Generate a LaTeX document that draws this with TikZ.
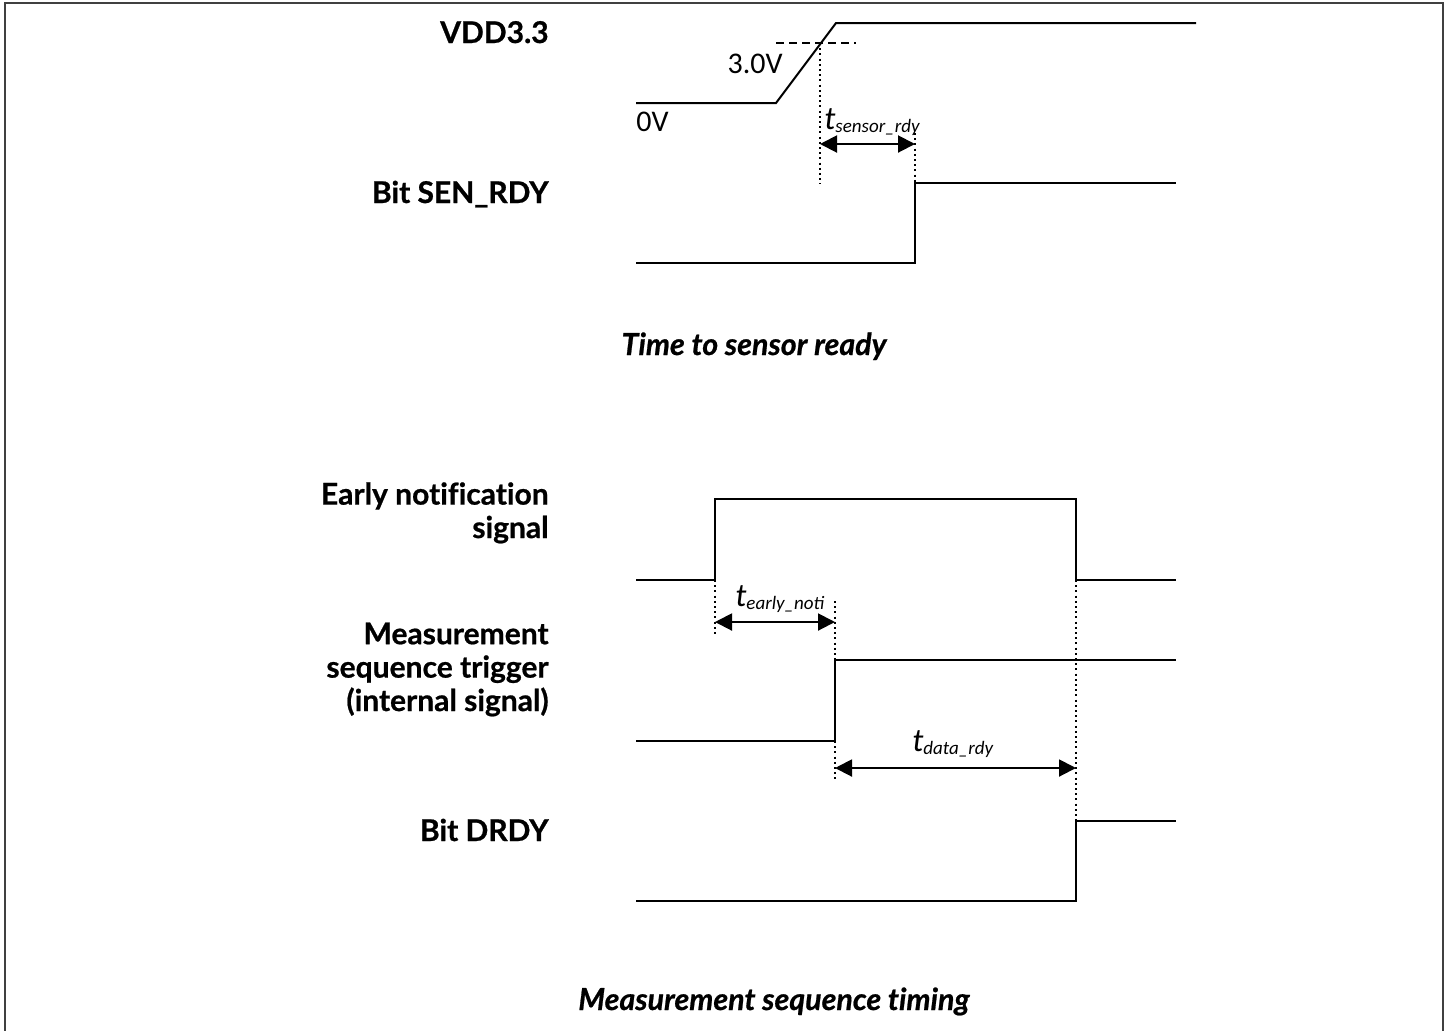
\documentclass[tikz,border=0pt]{standalone}
\usepackage{fontspec}
\setmainfont{Lato}[Ligatures=NoCommon, BoldFeatures={FakeBold=0.7}, BoldItalicFeatures={FakeBold=0.7}]
\newfontfamily\calib{Carlito}
\usetikzlibrary{arrows.meta}
\begin{document}
\begin{tikzpicture}[x=0.5pt,y=-0.5pt,
  wave/.style={line width=1pt, line join=miter, line cap=butt},
  sig/.style={anchor=base east, inner sep=0, align=right,
    font=\fontsize{15}{16.7}\selectfont\bfseries},
  capt/.style={anchor=base, inner sep=0,
    font=\fontsize{15.2}{17.5}\selectfont\bfseries\itshape},
  volt/.style={inner sep=0, font=\fontsize{15}{16}\selectfont\calib},
  tl/.style={anchor=base west, inner sep=0, font=\fontsize{16.5}{18}\selectfont\calib\itshape},
  dots/.style={line width=1pt, dash pattern=on 1pt off 1.6pt},
  dim/.style={line width=1pt, {Triangle[length=8.5pt,width=8.5pt]}-{Triangle[length=8.5pt,width=8.5pt]}},
  thr/.style={line width=1pt, dash pattern=on 4pt off 2.5pt}
]
\newcommand{\tsub}[1]{\raisebox{-0.2ex}{\fontsize{9.5}{10}\selectfont #1}}
\useasboundingbox (0,0) rectangle (1451,1030);
% frame
\draw[line width=1.2pt, black!75] (5,1031) -- (5,3) -- (1443,3) -- (1443,1031);

% ---------------- Time to sensor ready ----------------
\node[sig] (lvdd) at (549,43) {VDD3.3};
\node[sig] (lsen) at (549,203) {Bit SEN\_RDY};

\coordinate (v0) at (636,103);
\coordinate (v1) at (776,103);
\coordinate (v2) at (836,23);
\coordinate (v3) at (1196,23);
\draw[wave] (v0) -- (v1) -- (v2) -- (v3);
\coordinate (th0) at (776,43);
\coordinate (th1) at (856,43);
\draw[thr] (th0) -- (th1);
\node[volt, anchor=base east] (l30) at (783,73) {3.0V};
\node[volt, anchor=base west] (l0) at (636,131) {0V};

\coordinate (s0) at (636,263);
\coordinate (s1) at (915,263);
\coordinate (s2) at (915,183);
\coordinate (s3) at (1176,183);
\draw[wave] (s0) -- (s1) -- (s2) -- (s3);

\coordinate (d1a) at (820,43);
\coordinate (d1b) at (820,184);
\draw[dots] (d1a) -- (d1b);
\coordinate (d2a) at (915,133);
\draw[dots] (d2a) -- (s2);
\coordinate (a1) at (820,144);
\coordinate (a2) at (915,144);
\draw[dim] (a1) -- (a2);
\node[tl] (tsr) at (824,129) {t\tsub{sensor\_rdy}};

\node[capt] (cap1) at (754,355) {Time to sensor ready};

% ---------------- Measurement sequence timing ----------------
\node[sig] (len) at (549,538) {Early notification\\signal};
\node[sig] (lmt) at (549,711) {Measurement\\sequence trigger\\(internal signal)};
\node[sig] (ldr) at (549,841) {Bit DRDY};

\coordinate (e0) at (636,580);
\coordinate (e1) at (715,580);
\coordinate (e2) at (715,499);
\coordinate (e3) at (1076,499);
\coordinate (e4) at (1076,580);
\coordinate (e5) at (1176,580);
\draw[wave] (e0) -- (e1) -- (e2) -- (e3) -- (e4) -- (e5);

\coordinate (m0) at (636,741);
\coordinate (m1) at (835,741);
\coordinate (m2) at (835,660);
\coordinate (m3) at (1176,660);
\draw[wave] (m0) -- (m1) -- (m2) -- (m3);

\coordinate (r0) at (636,901);
\coordinate (r1) at (1076,901);
\coordinate (r2) at (1076,821);
\coordinate (r3) at (1176,821);
\draw[wave] (r0) -- (r1) -- (r2) -- (r3);

% dotted guides
\coordinate (g1) at (715,637);
\draw[dots] (e1) -- (g1);
\coordinate (g2) at (835,601);
\draw[dots] (g2) -- (m2);
\coordinate (g3) at (835,782);
\draw[dots] (m1) -- (g3);
\draw[dots] (e4) -- (r2);

\coordinate (b1) at (715,622);
\coordinate (b2) at (835,622);
\draw[dim] (b1) -- (b2);
\node[tl] (ten) at (735,606) {t\tsub{early\_noti}};

\coordinate (c1) at (835,768);
\coordinate (c2) at (1076,768);
\draw[dim] (c1) -- (c2);
\node[tl] (tdr) at (912,751) {t\tsub{data\_rdy}};

\node[capt] (cap2) at (774,1010) {Measurement sequence timing};
\end{tikzpicture}
\end{document}
